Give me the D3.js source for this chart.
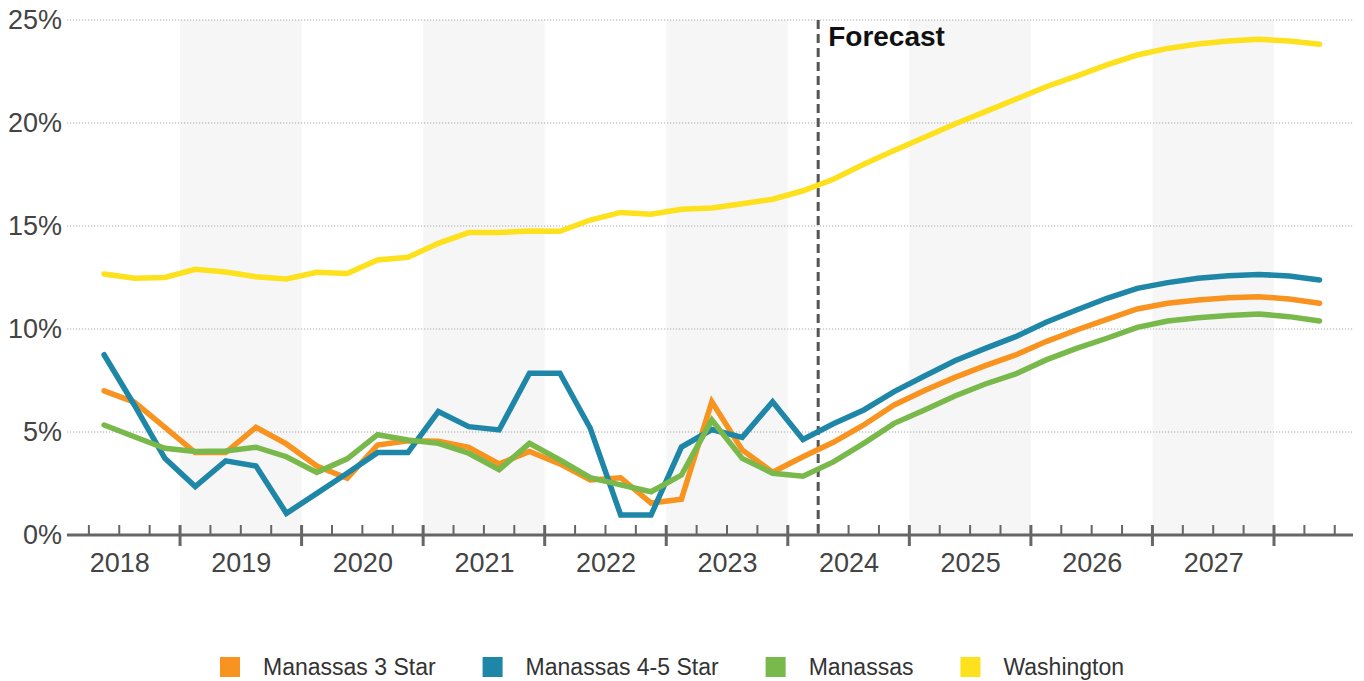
<!DOCTYPE html>
<html>
<head>
<meta charset="utf-8">
<script src="https://cdn.jsdelivr.net/npm/d3@7"></script>
<style>
  html, body { margin: 0; padding: 0; background: #ffffff; }
  svg { display: block; font-family: "Liberation Sans", Arial, sans-serif; }
</style>
</head>
<body>
<svg id="chart" width="1364" height="681"></svg>
<script>
// Quarterly vacancy rates (%), history then forecast
const quarters = [
  "2018 Q2","2018 Q3","2018 Q4",
  "2019 Q1","2019 Q2","2019 Q3","2019 Q4",
  "2020 Q1","2020 Q2","2020 Q3","2020 Q4",
  "2021 Q1","2021 Q2","2021 Q3","2021 Q4",
  "2022 Q1","2022 Q2","2022 Q3","2022 Q4",
  "2023 Q1","2023 Q2","2023 Q3","2023 Q4",
  "2024 Q1","2024 Q2","2024 Q3","2024 Q4",
  "2025 Q1","2025 Q2","2025 Q3","2025 Q4",
  "2026 Q1","2026 Q2","2026 Q3","2026 Q4",
  "2027 Q1","2027 Q2","2027 Q3","2027 Q4",
  "2028 Q1","2028 Q2"
];

const manassas3Star = [
  7.00, 6.45, 5.23, 4.00, 4.00, 5.23, 4.42, 3.35, 2.75, 4.37,
  4.57, 4.55, 4.26, 3.45, 4.05, 3.45, 2.67, 2.78, 1.55, 1.74,
  6.47, 4.13, 3.05, 3.80, 4.50, 5.34, 6.31, 7.01, 7.65, 8.22,
  8.74, 9.39, 9.95, 10.47, 10.97, 11.25, 11.41, 11.52, 11.57, 11.46,
  11.25
];

const manassas45Star = [
  8.75, 6.30, 3.72, 2.35, 3.60, 3.35, 1.05, 2.02, 3.00, 4.00,
  4.00, 5.99, 5.26, 5.10, 7.85, 7.85, 5.18, 0.97, 0.97, 4.27,
  5.12, 4.74, 6.47, 4.64, 5.40, 6.07, 6.96, 7.72, 8.46, 9.06,
  9.63, 10.33, 10.92, 11.49, 11.97, 12.25, 12.46, 12.59, 12.65, 12.57,
  12.38
];

const manassasAll = [
  5.34, 4.77, 4.21, 4.05, 4.08, 4.26, 3.80, 3.04, 3.70, 4.87,
  4.61, 4.45, 3.97, 3.17, 4.45, 3.65, 2.78, 2.43, 2.10, 2.91,
  5.58, 3.72, 3.00, 2.85, 3.55, 4.45, 5.42, 6.07, 6.75, 7.33,
  7.82, 8.50, 9.06, 9.55, 10.08, 10.39, 10.55, 10.66, 10.73, 10.60,
  10.39
];

const washington = [
  12.67, 12.46, 12.50, 12.90, 12.77, 12.54, 12.43, 12.75, 12.69, 13.35,
  13.48, 14.16, 14.68, 14.68, 14.76, 14.74, 15.29, 15.66, 15.57, 15.81,
  15.87, 16.08, 16.30, 16.71, 17.27, 18.00, 18.66, 19.31, 19.95, 20.55,
  21.15, 21.76, 22.28, 22.82, 23.30, 23.62, 23.83, 23.98, 24.06, 23.98,
  23.82
];

const yearLabels = ["2018","2019","2020","2021","2022","2023","2024","2025","2026","2027"];
const shadedYears = ["2019","2021","2023","2025","2027"];
const yTickValues = [0, 5, 10, 15, 20, 25];
const forecastStart = "2024 Q2";
const forecastLabel = "Forecast";

const seriesNames = ["Manassas 3 Star", "Manassas 4-5 Star", "Manassas", "Washington"];
const seriesValues = [manassas3Star, manassas45Star, manassasAll, washington];
const seriesColors = ["#f7931e", "#1e86a6", "#79b84b", "#fde11d"];

// ---- layout ----
const svg = d3.select("#chart");
const plotLeft = 67, plotRight = 1353, plotTop = 20, plotBottom = 535;

// quarter label -> fractional year at the start / middle of the quarter
const qStart = q => { const [yr, p] = q.split(" "); return +yr + (+p.slice(1) - 1) * 0.25; };
const qMid = q => qStart(q) + 0.125;
const isYearStart = v => Math.abs(v - Math.round(v)) < 1e-6;

const x = d3.scaleLinear().domain([2018.07, 2028.65]).range([plotLeft, plotRight]);
const y = d3.scaleLinear().domain([0, 25]).range([plotBottom, plotTop]);

// alternating year shading
svg.append("g").selectAll("rect")
  .data(shadedYears)
  .join("rect")
  .attr("x", d => x(+d))
  .attr("width", d => x(+d + 1) - x(+d))
  .attr("y", y(25))
  .attr("height", y(0) - y(25))
  .attr("fill", "#f6f6f6");

// dotted horizontal grid
svg.append("g").selectAll("line")
  .data(yTickValues.filter(v => v > 0))
  .join("line")
  .attr("x1", plotLeft).attr("x2", plotRight)
  .attr("y1", d => y(d)).attr("y2", d => y(d))
  .attr("stroke", "#a8a8a8")
  .attr("stroke-width", 1)
  .attr("stroke-dasharray", "1.2,1.8");

// y axis labels
const yAxis = svg.append("g")
  .attr("transform", `translate(${plotLeft - 5},0)`)
  .call(d3.axisLeft(y).tickValues(yTickValues).tickSize(0).tickPadding(0).tickFormat(d => d + "%"));
yAxis.select(".domain").remove();
yAxis.selectAll("text")
  .attr("font-size", 27)
  .attr("font-family", "Liberation Sans, Arial, sans-serif")
  .attr("fill", "#444");

// x axis: baseline, quarter ticks and year labels
const tickYears = d3.range(2018.25, 2028.51, 0.25).filter(v => x(v) >= plotLeft && x(v) <= plotRight);
const axisG = svg.append("g");
axisG.append("line")
  .attr("x1", plotLeft).attr("x2", plotRight)
  .attr("y1", plotBottom).attr("y2", plotBottom)
  .attr("stroke", "#666").attr("stroke-width", 3);
axisG.selectAll("line.tick")
  .data(tickYears)
  .join("line")
  .attr("class", "tick")
  .attr("x1", d => x(d)).attr("x2", d => x(d))
  .attr("y1", plotBottom - 10)
  .attr("y2", d => isYearStart(d) ? plotBottom + 11 : plotBottom)
  .attr("stroke", "#666")
  .attr("stroke-width", d => isYearStart(d) ? 3 : 2);

const xAxis = svg.append("g")
  .attr("transform", `translate(0,${plotBottom})`)
  .call(d3.axisBottom(x).tickValues(yearLabels.map(d => +d + 0.5)).tickSize(0).tickPadding(18).tickFormat(d => String(Math.floor(d))));
xAxis.select(".domain").remove();
xAxis.selectAll("text")
  .attr("font-size", 27)
  .attr("font-family", "Liberation Sans, Arial, sans-serif")
  .attr("fill", "#444");

// forecast divider
const fx = x(qStart(forecastStart));
svg.append("line")
  .attr("x1", fx).attr("x2", fx)
  .attr("y1", y(25)).attr("y2", y(0))
  .attr("stroke", "#555")
  .attr("stroke-width", 3)
  .attr("stroke-dasharray", "9,5");
svg.append("text")
  .attr("x", fx + 10).attr("y", 46)
  .attr("font-size", 28)
  .attr("font-weight", "bold")
  .attr("fill", "#111")
  .text(forecastLabel);

// series lines
const line = d3.line()
  .x((d, i) => x(qMid(quarters[i])))
  .y(d => y(d));

svg.append("g").selectAll("path")
  .data(seriesValues)
  .join("path")
  .attr("d", d => line(d))
  .attr("fill", "none")
  .attr("stroke", (d, i) => seriesColors[i])
  .attr("stroke-width", 5.5)
  .attr("stroke-linecap", "round")
  .attr("stroke-linejoin", "miter");

// legend
const legend = svg.append("g").attr("transform", "translate(220,657)");
let lx = 0;
seriesNames.forEach((name, i) => {
  const item = legend.append("g").attr("transform", `translate(${lx},0)`);
  item.append("rect")
    .attr("width", 20).attr("height", 20)
    .attr("fill", seriesColors[i]);
  const t = item.append("text")
    .attr("x", 43).attr("y", 18)
    .attr("font-size", 23)
    .attr("fill", "#333")
    .text(name);
  lx += 43 + t.node().getComputedTextLength() + 47;
});
</script>
</body>
</html>
